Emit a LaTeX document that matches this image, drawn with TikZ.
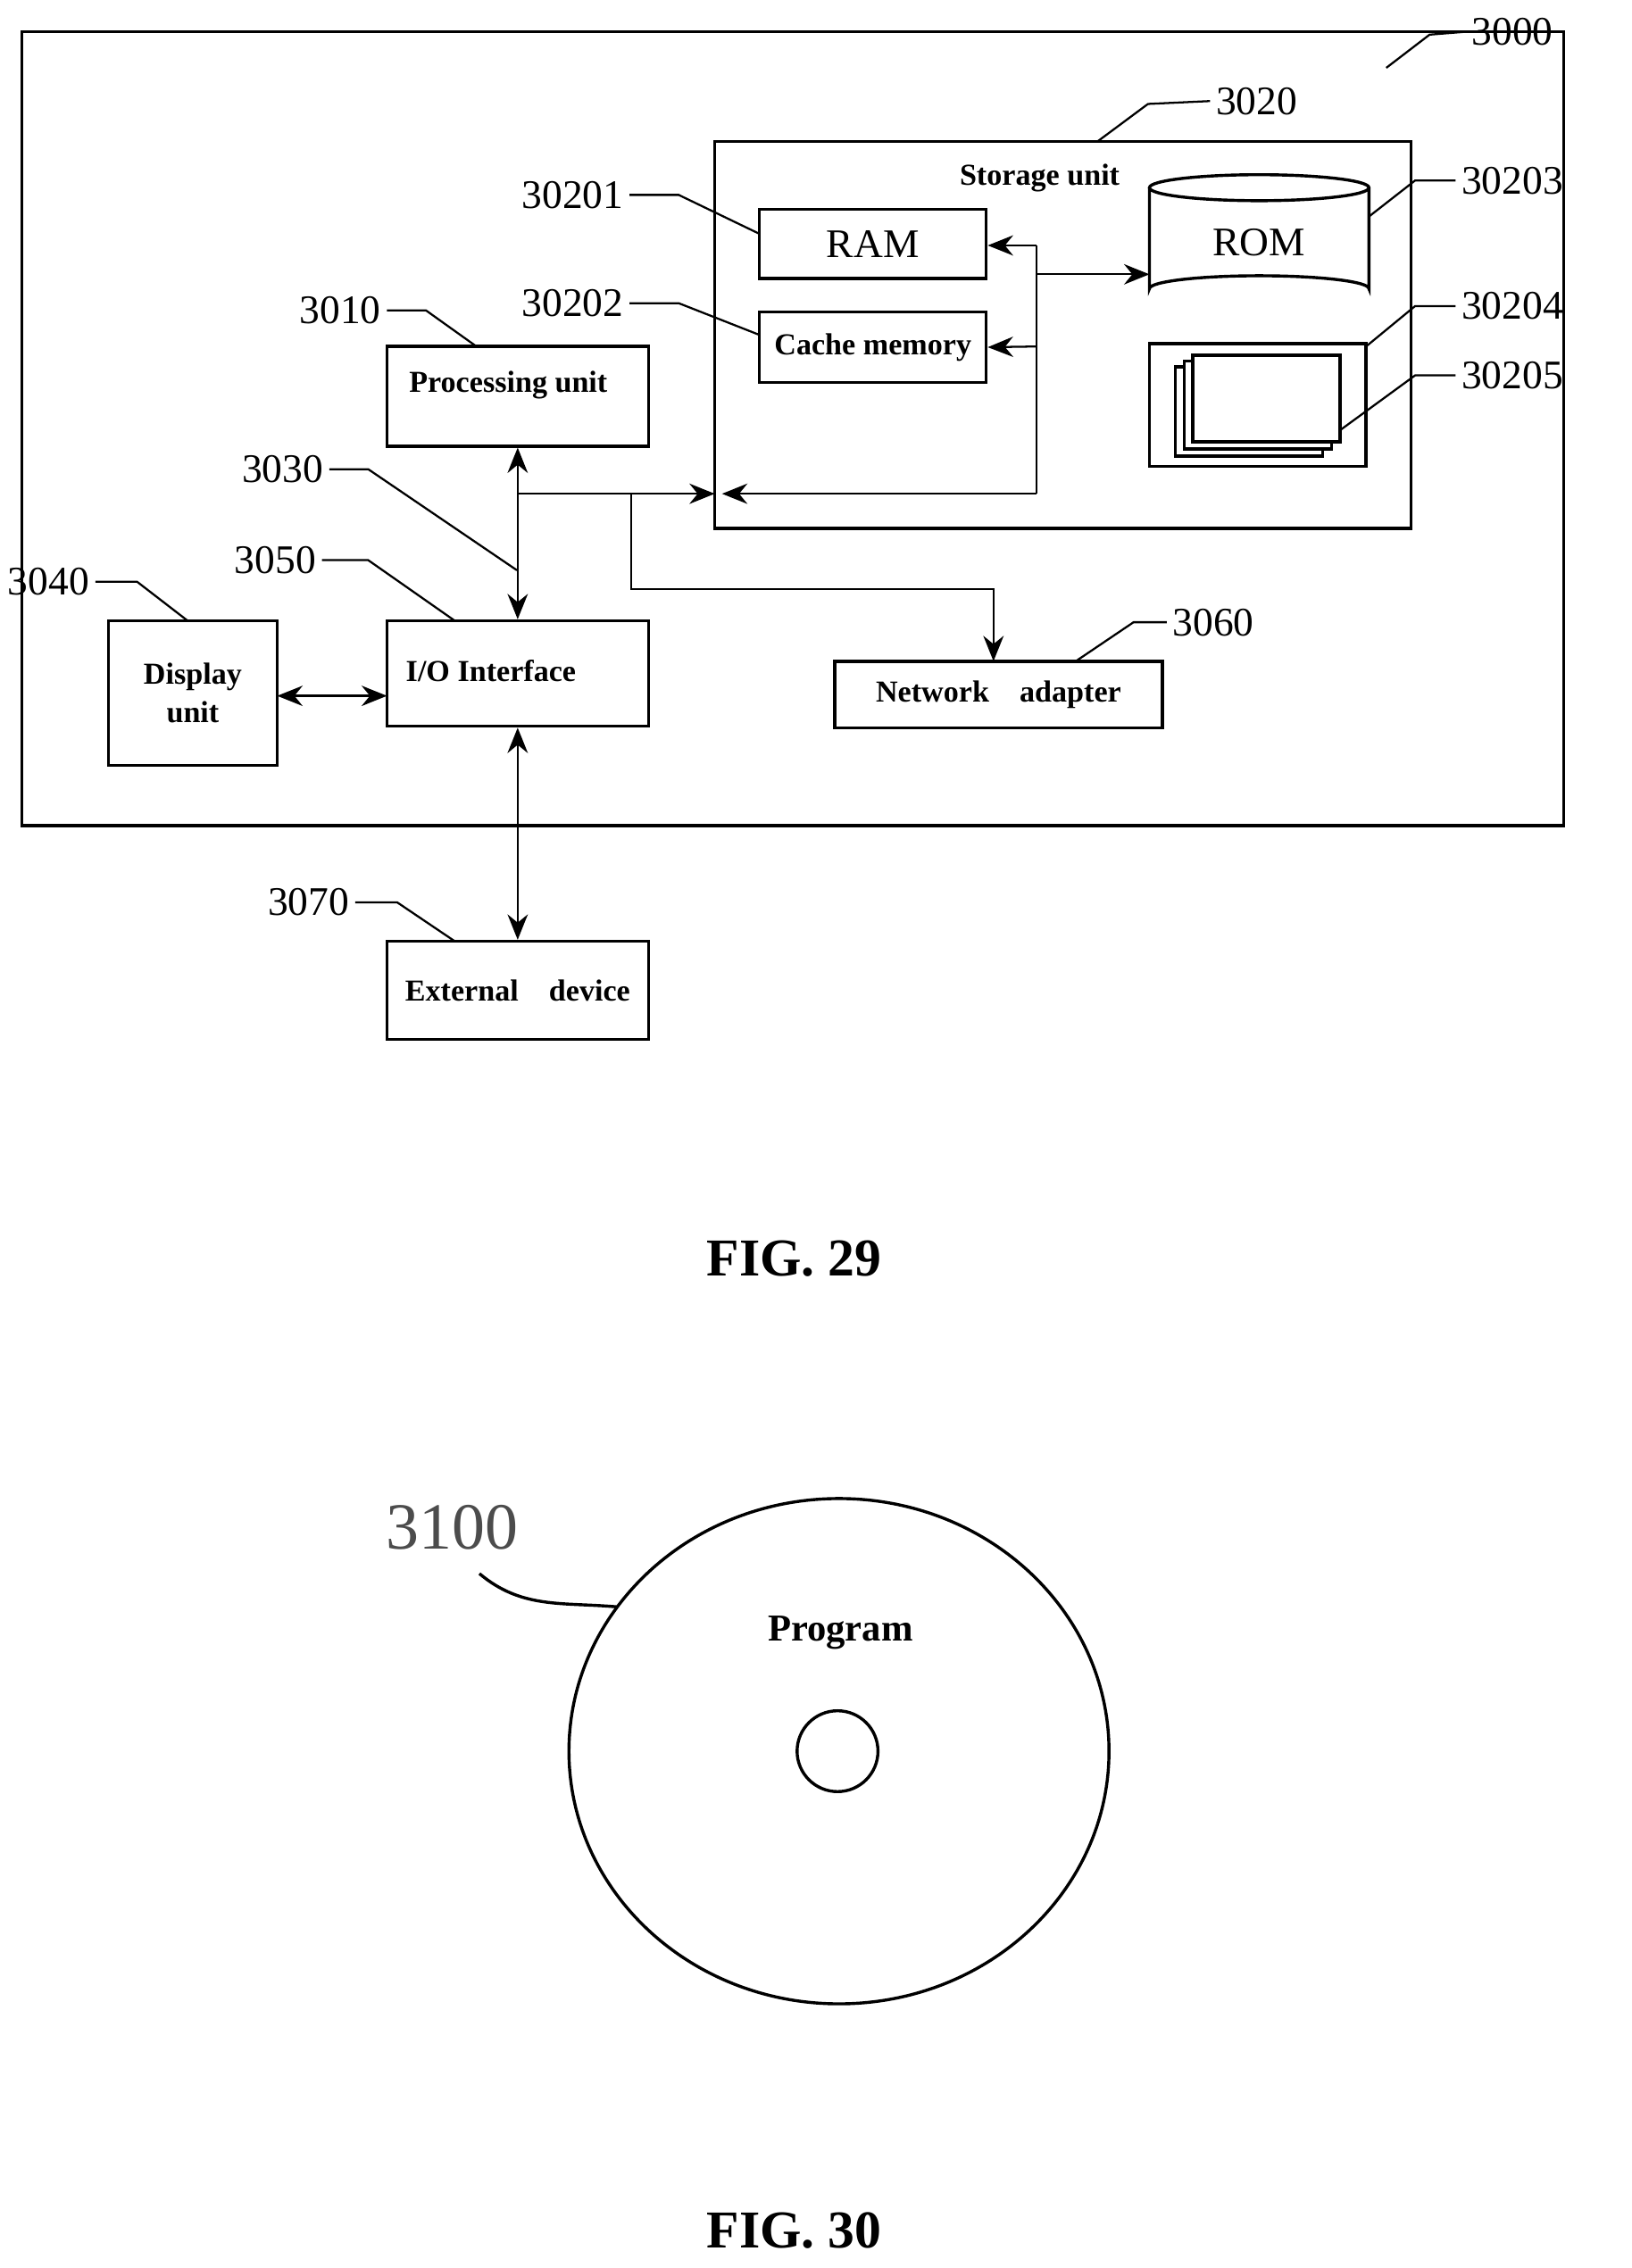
\documentclass[tikz,border=0pt]{standalone}
\usepackage{fontspec}
\setmainfont{Liberation Serif}
\usetikzlibrary{positioning}
\usetikzlibrary{shapes,arrows,arrows.meta}
\tikzset{
  blk/.style={draw, semithick, inner sep=0pt, font=\fontsize{6}{7.5}\selectfont\bfseries},
  num/.style={font=\fontsize{8}{10}\selectfont, inner sep=1pt},
  lead/.style={thin},
  bus/.style={thin, -{Stealth[length=5pt,width=4pt]}},
  dbus/.style={thin, {Stealth[length=5pt,width=4pt]}-{Stealth[length=5pt,width=4pt]}}
}
\begin{document}
\begin{tikzpicture}[x=0.1mm,y=-0.1mm]
     \useasboundingbox (0,0) rectangle (1130,1571);
     % frames
     \draw [semithick] (15,22) rectangle (1083,572);
     \draw [semithick] (495,98) rectangle (977,366);
     \node [blk, draw=none] (stor) at (720,123) {Storage unit};

     % blocks
     \node [blk, minimum width=15.7mm, minimum height=4.8mm] (ram) at (604.5,169) {\fontsize{8}{10}\selectfont\mdseries RAM};
     \node [blk, minimum width=15.7mm, minimum height=4.9mm] (cache) at (604.5,240.5) {Cache memory};
     \node [blk, minimum width=18.1mm, minimum height=6.9mm] (proc) at (358.5,274.5) {};
     \node [blk, draw=none] at (352,267) {Processing unit};
     \node [blk, minimum width=18.1mm, minimum height=7.3mm] (io) at (358.5,466.5) {};
     \node [blk, draw=none] at (340,465) {I/O Interface};
     \node [blk, minimum width=11.7mm, minimum height=10mm, align=center] (disp) at (133.5,480) {Display\\unit};
     \node [blk, minimum width=22.7mm, minimum height=4.6mm] (net) at (691.5,481) {Network\quad adapter};
     \node [blk, minimum width=18.1mm, minimum height=6.8mm] (ext) at (358.5,686) {External\quad device};

     % ROM cylinder
     \draw [semithick] (796,130) -- (796,200) arc (180:360:76 and 9) -- (948,130);
     \draw [semithick] (872,130) ellipse (76 and 9);
     \node [font=\fontsize{8}{10}\selectfont] (rom) at (872,168) {ROM};
     \coordinate (romw) at (796,190);

     % program modules
     \draw [semithick] (796,238) rectangle (946,323);
     \draw [semithick, fill=white] (814,254) rectangle (916,316);
     \draw [semithick, fill=white] (820,250) rectangle (922,311);
     \draw [semithick, fill=white] (826,246) rectangle (928,306);

     % bus
     \coordinate (b1) at (358,342);
     \coordinate (b2) at (437,342);
     \coordinate (sin) at (495,342);
     \coordinate (sc) at (718,342);
     \coordinate (st) at (718,170);
     \coordinate (sm) at (718,190);
     \draw [dbus] (proc.south) -- (io.north);
     \draw [bus] (b1) -- (sin);
     \draw [bus] (sc) -- (500,342);
     \draw (sc) -- (st);
     \draw [bus] (st) -- (ram.east |- st);
     \draw [bus] (718,240) -- (cache.east);
     \draw [bus] (sm) -- (romw);
     \draw [bus] (b2) -- (437,408) -- (688,408) -- (688,458);
     \draw [dbus] (192,482) -- (268,482);
     \draw [dbus] (io.south) -- (ext.north);

     % reference numerals
     \node [num, anchor=west] (n3000) at (1015,22) {3000};
     \draw [lead] (960,47) -- (990,24) -- (n3000.west);
     \node [num, anchor=west] (n3020) at (838,70) {3020};
     \draw [lead] (760,98) -- (795,72) -- (n3020.west);
     \node [num, anchor=east] (n30201) at (436,135) {30201};
     \draw [lead] (n30201.east) -- (470,135) -- (526,162);
     \node [num, anchor=east] (n30202) at (436,210) {30202};
     \draw [lead] (n30202.east) -- (470,210) -- (526,232);
     \node [num, anchor=west] (n30203) at (1008,125) {30203};
     \draw [lead] (948,150) -- (980,125) -- (n30203.west);
     \node [num, anchor=west] (n30204) at (1008,212) {30204};
     \draw [lead] (946,240) -- (980,212) -- (n30204.west);
     \node [num, anchor=west] (n30205) at (1008,260) {30205};
     \draw [lead] (928,298) -- (980,260) -- (n30205.west);
     \node [num, anchor=east] (n3010) at (268,215) {3010};
     \draw [lead] (n3010.east) -- (295,215) -- (330,240);
     \node [num, anchor=east] (n3030) at (228,325) {3030};
     \draw [lead] (n3030.east) -- (255,325) -- (358,395);
     \node [num, anchor=east] (n3050) at (223,388) {3050};
     \draw [lead] (n3050.east) -- (255,388) -- (315,430);
     \node [num, anchor=east] (n3040) at (66,403) {3040};
     \draw [lead] (n3040.east) -- (95,403) -- (130,430);
     \node [num, anchor=west] (n3060) at (808,431) {3060};
     \draw [lead] (745,458) -- (785,431) -- (n3060.west);
     \node [num, anchor=east] (n3070) at (246,625) {3070};
     \draw [lead] (n3070.east) -- (275,625) -- (315,652);

     \node [font=\fontsize{10.5}{12}\selectfont\bfseries] (fig29) at (550,872) {FIG. 29};

     % disc
     \draw [semithick] (581,1213) ellipse (187 and 175);
     \draw [semithick] (580,1213) circle (28);
     \node [blk, draw=none] (prog) at (582,1131) {\fontsize{7.5}{10}\selectfont Program};
     \node [font=\fontsize{13}{16}\selectfont, text=black!70] (n3100) at (313,1058) {3100};
     \draw [semithick] (332,1090) to [out=-40, in=175] (427,1113);

     \node [font=\fontsize{10.5}{12}\selectfont\bfseries] (fig30) at (550,1545) {FIG. 30};
\end{tikzpicture}
\end{document}
